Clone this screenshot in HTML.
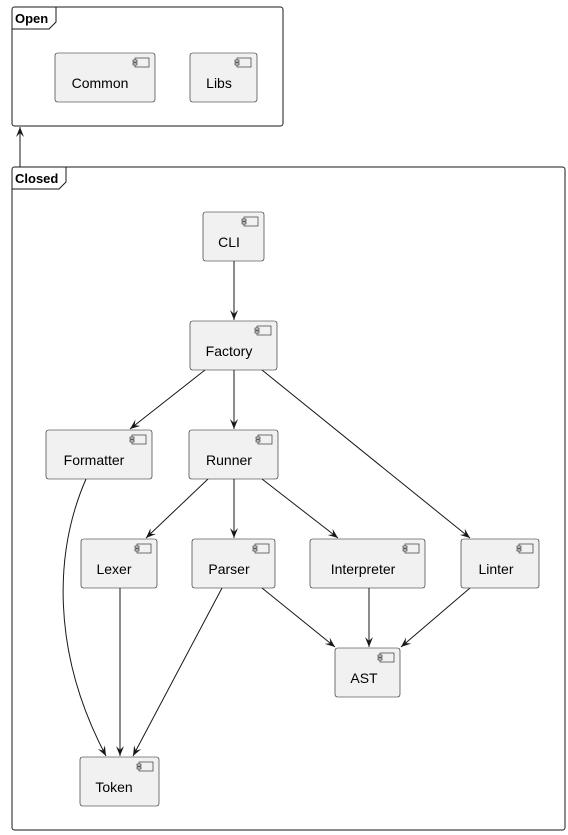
<!DOCTYPE html>
<html><head><style>body{margin:0;background:#fff}svg{display:block}</style></head><body>
<svg width="568" height="835" xmlns="http://www.w3.org/2000/svg" font-family="Liberation Sans, DejaVu Sans, sans-serif">
<defs>
<marker id="a" markerWidth="12" markerHeight="10" refX="10" refY="4" orient="auto" markerUnits="userSpaceOnUse">
<path d="M0,0 L10,4 L0,8 L4,4 Z" fill="#181818"/>
</marker>
<g id="ic"><rect x="0" y="0" width="14" height="9" fill="#f1f1f1" stroke="#181818" stroke-width="0.6"/><rect x="-2" y="2" width="4" height="2" fill="#f1f1f1" stroke="#181818" stroke-width="0.6"/><rect x="-2" y="5" width="4" height="2" fill="#f1f1f1" stroke="#181818" stroke-width="0.6"/></g>
</defs>
<!-- frames -->
<rect x="12" y="7" width="271" height="119" rx="2.5" fill="none" stroke="#181818"/>
<path d="M12,29 L49,29 L56,22 L56,7" fill="none" stroke="#181818"/>
<text x="15" y="23" font-size="13" font-weight="bold" fill="#000">Open</text>
<rect x="12" y="167" width="553" height="663" rx="2.5" fill="none" stroke="#181818"/>
<path d="M12,189 L59,189 L66,182 L66,167" fill="none" stroke="#181818"/>
<text x="15" y="183" font-size="13" font-weight="bold" fill="#000">Closed</text>
<!-- edges -->
<g stroke="#181818" fill="none" marker-end="url(#a)">
<line x1="20" y1="167" x2="20" y2="127"/>
<line x1="234" y1="261" x2="234" y2="320"/>
<line x1="205" y1="370" x2="130" y2="429"/>
<line x1="234" y1="370" x2="234" y2="429"/>
<line x1="262" y1="370" x2="470" y2="538"/>
<line x1="208" y1="479" x2="146" y2="538"/>
<line x1="234" y1="479" x2="234" y2="538"/>
<line x1="262" y1="479" x2="338" y2="538"/>
<path d="M86,479 C55,550 50,650 106,756"/>
<line x1="120" y1="588" x2="120" y2="756"/>
<line x1="222" y1="588" x2="133" y2="756"/>
<line x1="262" y1="588" x2="335" y2="647"/>
<line x1="369" y1="588" x2="369" y2="647"/>
<line x1="470" y1="588" x2="401" y2="647"/>
</g>
<!-- nodes -->
<g font-size="14" fill="#000" text-anchor="middle">
<g><rect x="55" y="53" width="100" height="49" rx="2.5" fill="#f1f1f1" stroke="#181818" stroke-width="0.6"/><use href="#ic" x="135" y="58"/><text x="100" y="88">Common</text></g>
<g><rect x="190" y="53" width="67" height="49" rx="2.5" fill="#f1f1f1" stroke="#181818" stroke-width="0.6"/><use href="#ic" x="237" y="58"/><text x="219" y="88">Libs</text></g>
<g><rect x="203" y="212" width="61" height="49" rx="2.5" fill="#f1f1f1" stroke="#181818" stroke-width="0.6"/><use href="#ic" x="244" y="217"/><text x="229" y="247">CLI</text></g>
<g><rect x="190" y="321" width="87" height="49" rx="2.5" fill="#f1f1f1" stroke="#181818" stroke-width="0.6"/><use href="#ic" x="257" y="326"/><text x="229" y="356">Factory</text></g>
<g><rect x="46" y="430" width="106" height="49" rx="2.5" fill="#f1f1f1" stroke="#181818" stroke-width="0.6"/><use href="#ic" x="132" y="435"/><text x="94" y="465">Formatter</text></g>
<g><rect x="189" y="430" width="89" height="49" rx="2.5" fill="#f1f1f1" stroke="#181818" stroke-width="0.6"/><use href="#ic" x="258" y="435"/><text x="229" y="465">Runner</text></g>
<g><rect x="81" y="539" width="76" height="49" rx="2.5" fill="#f1f1f1" stroke="#181818" stroke-width="0.6"/><use href="#ic" x="137" y="544"/><text x="114" y="574">Lexer</text></g>
<g><rect x="192" y="539" width="83" height="49" rx="2.5" fill="#f1f1f1" stroke="#181818" stroke-width="0.6"/><use href="#ic" x="255" y="544"/><text x="229" y="574">Parser</text></g>
<g><rect x="310" y="539" width="115" height="49" rx="2.5" fill="#f1f1f1" stroke="#181818" stroke-width="0.6"/><use href="#ic" x="405" y="544"/><text x="363" y="574">Interpreter</text></g>
<g><rect x="461" y="539" width="78" height="49" rx="2.5" fill="#f1f1f1" stroke="#181818" stroke-width="0.6"/><use href="#ic" x="519" y="544"/><text x="496" y="574">Linter</text></g>
<g><rect x="335" y="648" width="65" height="49" rx="2.5" fill="#f1f1f1" stroke="#181818" stroke-width="0.6"/><use href="#ic" x="380" y="653"/><text x="364" y="683">AST</text></g>
<g><rect x="80" y="757" width="79" height="49" rx="2.5" fill="#f1f1f1" stroke="#181818" stroke-width="0.6"/><use href="#ic" x="139" y="762"/><text x="114" y="792">Token</text></g>
</g>
</svg>
</body></html>
